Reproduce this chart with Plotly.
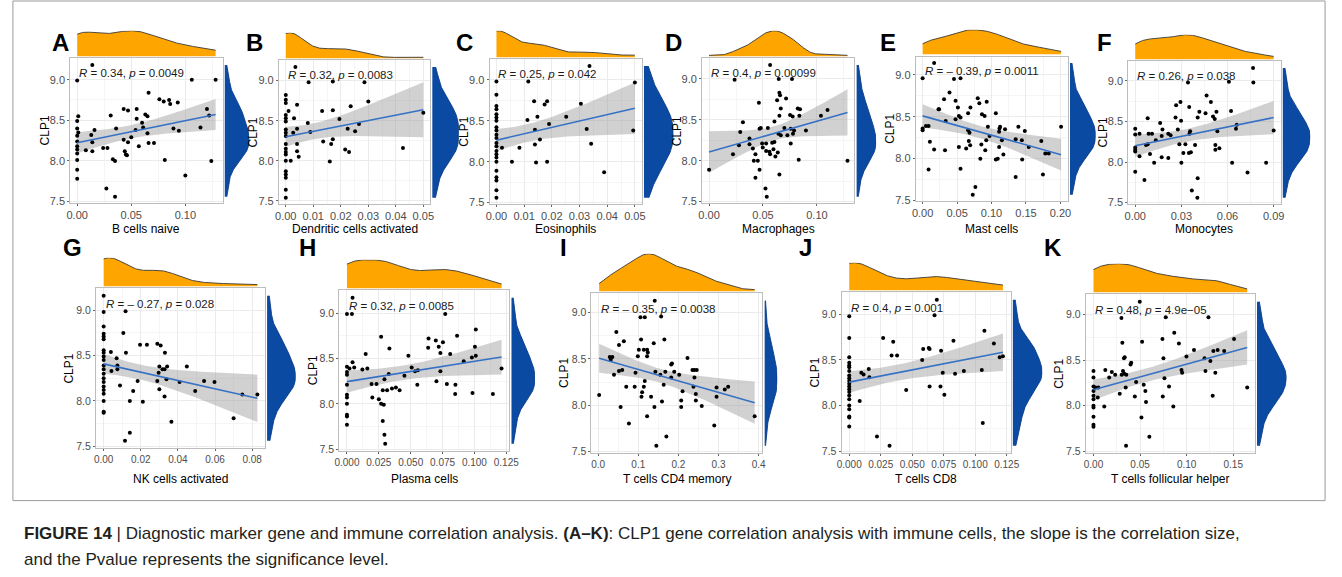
import numpy as np
import plotly.graph_objects as go

W, H = 1342, 577
FONT = "Liberation Sans, Arial, sans-serif"

# ---------------- data (immune cell fraction, CLP1 expression) ----------------
A_pts = [(0.014,9.18),(0,8.99),(0.106,9.00),(0.128,9.00),(0.066,8.84),(0.076,8.76),(0.080,8.73),(0.085,8.75),(0.086,8.70),(0.093,8.72),(0.043,8.64),(0.047,8.62),(0.055,8.64),(0.031,8.56),(0.001,8.55),(0.063,8.57),(0.065,8.55),(0.055,8.52),(0.060,8.47),(0,8.49),(0.120,8.64),(0.122,8.56),(0.061,8.41),(0.114,8.41),(0.089,8.40),(0.094,8.37),(0.054,8.38),(0.036,8.40),(0.016,8.38),(0,8.40),(0.001,8.35),(0,8.31),(0.013,8.32),(0.065,8.34),(0.050,8.29),(0.043,8.26),(0,8.24),(0.014,8.23),(0.047,8.23),(0.057,8.18),(0.066,8.22),(0.071,8.22),(0,8.18),(0,8.14),(0.008,8.13),(0.014,8.12),(0.024,8.16),(0.028,8.16),(0,8.09),(0.044,8.12),(0.045,8.08),(0.046,8.07),(0,8.01),(0.033,8.02),(0.035,8.00),(0.081,8.01),(0.124,8.00),(0,7.89),(0,7.78),(0.100,7.82),(0.027,7.66),(0.035,7.56)]
B_pts = [(0.0035,9.17),(0.0083,8.98),(0.0171,8.99),(0.0286,8.98),(0,8.82),(0,8.76),(0,8.72),(0.030,8.74),(0.0041,8.70),(0.0236,8.68),(0.001,8.62),(0,8.57),(0.0132,8.62),(0.0171,8.63),(0.003,8.53),(0,8.53),(0,8.49),(0.0195,8.52),(0.008,8.47),(0,8.39),(0.0041,8.40),(0.0225,8.40),(0.0266,8.46),(0.0252,8.37),(0.050,8.60),(0,8.35),(0.0027,8.35),(0.0089,8.36),(0,8.31),(0.0171,8.27),(0.0136,8.24),(0.0041,8.21),(0.0165,8.21),(0,8.21),(0,8.15),(0,8.11),(0.0041,8.12),(0,8.08),(0.0047,8.05),(0.0216,8.14),(0.023,8.11),(0.0426,8.16),(0,8.00),(0.0018,8.00),(0.016,7.99),(0,7.87),(0,7.83),(0,7.79),(0,7.64),(0,7.54)]
C_pts = [(0.0336,9.17),(0,8.98),(0.0115,8.98),(0.050,8.97),(0,8.82),(0,8.68),(0,8.64),(0.0136,8.74),(0.0183,8.74),(0.0174,8.70),(0.0305,8.71),(0,8.58),(0,8.54),(0.0148,8.55),(0.0112,8.51),(0.0252,8.55),(0,8.50),(0,8.42),(0.019,8.46),(0.0326,8.40),(0.0139,8.39),(0.0494,8.38),(0,8.38),(0,8.33),(0,8.29),(0.0157,8.27),(0,8.23),(0.0139,8.21),(0.0342,8.22),(0,8.19),(0.002,8.17),(0.0083,8.17),(0,8.13),(0,8.09),(0,8.05),(0.0056,8.00),(0.0143,7.99),(0.0183,8.00),(0,8.00),(0,7.89),(0.0389,7.87),(0,7.81),(0,7.77),(0,7.65),(0,7.56)]
D_pts = [(0.0566,9.17),(0.0237,8.99),(0.0646,9.00),(0.0769,9.00),(0.0652,8.83),(0.0658,8.80),(0.0714,8.76),(0.0631,8.74),(0.0462,8.71),(0.0665,8.64),(0.0822,8.64),(0.0843,8.63),(0.0652,8.55),(0.0751,8.56),(0.0775,8.54),(0.0837,8.55),(0.1037,8.55),(0.1098,8.62),(0.0314,8.47),(0.0606,8.48),(0.0545,8.40),(0.0468,8.39),(0.048,8.40),(0.0698,8.40),(0.0757,8.39),(0.0788,8.37),(0.0898,8.37),(0.0289,8.35),(0.0643,8.33),(0.0665,8.31),(0.0726,8.31),(0.0778,8.33),(0.0585,8.22),(0.0375,8.27),(0.0492,8.21),(0.0529,8.21),(0.0606,8.23),(0.0277,8.19),(0.0757,8.21),(0.0375,8.20),(0.0498,8.16),(0.0529,8.12),(0.056,8.11),(0.0597,8.14),(0.0637,8.10),(0.0566,8.08),(0.0406,8.15),(0.043,8.08),(0.0222,8.08),(0.0615,8.05),(0.0415,8.00),(0.0452,8.00),(0.0831,8.01),(0.1283,8.00),(0,7.89),(0.0468,7.89),(0.0652,7.83),(0.043,7.79),(0.0523,7.66),(0.0535,7.56)]
E_pts = [(0.0167,9.14),(0,8.96),(0.0455,8.95),(0.055,8.96),(0.039,8.79),(0.0311,8.71),(0.0478,8.69),(0.080,8.72),(0.093,8.68),(0.0823,8.66),(0.0694,8.61),(0.0239,8.59),(0.0230,8.59),(0.0512,8.61),(0.0526,8.51),(0.055,8.49),(0.066,8.54),(0.0861,8.53),(0.090,8.51),(0.1062,8.54),(0.0335,8.45),(0.0478,8.47),(0.0947,8.38),(0.0048,8.39),(0.0086,8.39),(0,8.36),(0,8.34),(0.066,8.34),(0.1124,8.38),(0.1115,8.36),(0.1196,8.35),(0.139,8.38),(0.1483,8.33),(0.2009,8.38),(0.0971,8.27),(0.111,8.32),(0.068,8.31),(0.0105,8.20),(0.067,8.21),(0.0923,8.22),(0.115,8.22),(0.135,8.23),(0.144,8.22),(0.1722,8.21),(0.069,8.16),(0.0852,8.17),(0.0167,8.11),(0.0325,8.10),(0.0526,8.14),(0.0632,8.12),(0.0909,8.10),(0.111,8.14),(0.1172,8.05),(0.154,8.14),(0.178,8.06),(0.183,8.06),(0.0837,8.00),(0.1062,7.99),(0.109,8.00),(0.1445,7.99),(0.0086,7.87),(0.055,7.88),(0.135,7.78),(0.1746,7.81),(0.0766,7.66),(0.0727,7.57)]
F_pts = [(0.0766,9.16),(0.0343,8.98),(0.0609,8.99),(0.0768,8.98),(0.0464,8.82),(0.0492,8.74),(0.0294,8.74),(0.0266,8.70),(0.0351,8.68),(0.0417,8.62),(0.0623,8.63),(0.0081,8.54),(0.0262,8.55),(0.0406,8.55),(0.0457,8.60),(0.0506,8.56),(0.0517,8.53),(0.0528,8.62),(0.0162,8.48),(0.0298,8.51),(0,8.41),(0.066,8.46),(0.0655,8.41),(0.0277,8.40),(0.0357,8.38),(0.0028,8.35),(0,8.34),(0.0087,8.35),(0.0109,8.35),(0.0177,8.40),(0.0215,8.35),(0.0230,8.33),(0.0353,8.35),(0.0534,8.38),(0.090,8.39),(0.0172,8.32),(0.0134,8.27),(0.0081,8.22),(0,8.18),(0.007,8.21),(0.0287,8.22),(0.0326,8.22),(0.0389,8.21),(0.0521,8.21),(0.0547,8.17),(0,8.15),(0,8.13),(0.0313,8.11),(0.0349,8.11),(0.0362,8.12),(0.0521,8.15),(0.0028,8.07),(0.0096,8.10),(0.0172,8.06),(0.0215,8.05),(0,7.88),(0.006,7.78),(0.030,7.99),(0.0123,7.99),(0.063,7.99),(0.0851,7.99),(0.073,7.87),(0.0406,7.80),(0.0368,7.65),(0.0404,7.56)]
G_pts = [(0,9.16),(0,8.98),(0.0118,8.99),(0,8.82),(0,8.74),(0,8.71),(0,8.68),(0.0106,8.75),(0.0196,8.62),(0.0233,8.62),(0.0289,8.63),(0.0307,8.61),(0,8.56),(0,8.53),(0.0039,8.54),(0.012,8.53),(0.033,8.53),(0,8.49),(0.007,8.47),(0,8.45),(0.0074,8.39),(0,8.39),(0.030,8.38),(0.0342,8.38),(0.0448,8.38),(0.0074,8.35),(0.0042,8.33),(0,8.35),(0.0317,8.35),(0.0328,8.35),(0.0296,8.31),(0,8.30),(0.0338,8.24),(0,8.25),(0,8.21),(0.0183,8.22),(0.0289,8.22),(0.0409,8.21),(0.0541,8.22),(0.0597,8.21),(0.0088,8.17),(0,8.16),(0,8.12),(0.030,8.13),(0.0159,8.11),(0.0493,8.11),(0,8.08),(0.0328,8.05),(0.0828,8.07),(0.0747,8.07),(0,8.00),(0.0141,8.00),(0.0211,7.99),(0,7.88),(0,7.87),(0.0365,7.77),(0.070,7.81),(0.0141,7.65),(0.0115,7.56)]
H_pts = [(0.0044,9.17),(0,8.99),(0.0039,8.99),(0.0771,8.99),(0.1011,8.82),(0.0268,8.74),(0.0864,8.75),(0.064,8.72),(0.0697,8.70),(0.0753,8.68),(0.0637,8.62),(0.072,8.63),(0.1004,8.63),(0.0333,8.61),(0.0147,8.55),(0.0733,8.56),(0.081,8.55),(0.0482,8.53),(0.1011,8.53),(0.098,8.51),(0.0916,8.47),(0.0044,8.46),(0,8.41),(0.002,8.39),(0.0057,8.40),(0.0121,8.38),(0.016,8.39),(0.0508,8.40),(0.0557,8.37),(0.0534,8.36),(0.0733,8.36),(0.1213,8.39),(0,8.35),(0,8.32),(0.0328,8.33),(0.0451,8.31),(0.0294,8.27),(0,8.21),(0.0193,8.22),(0.0232,8.22),(0.0552,8.21),(0.0702,8.25),(0.0784,8.22),(0.0851,8.21),(0.0985,8.12),(0.1145,8.11),(0.0849,8.11),(0.0281,8.15),(0.0315,8.15),(0.0353,8.17),(0.0384,8.18),(0.0413,8.15),(0.0199,8.07),(0.025,8.05),(0,8.10),(0,8.07),(0,8.00),(0.0268,8.00),(0.0289,7.99),(0,7.88),(0,7.86),(0,7.77),(0.0281,7.81),(0.0294,7.66),(0.030,7.56)]
I_pts = [(0.141,9.13),(0.1055,8.95),(0.1162,8.95),(0.157,8.96),(0.0453,8.79),(0.165,8.71),(0.107,8.71),(0.064,8.69),(0.0519,8.65),(0.1385,8.67),(0.1014,8.60),(0.1138,8.60),(0.122,8.60),(0.1237,8.57),(0.0989,8.53),(0.122,8.53),(0.0289,8.52),(0.0313,8.49),(0.0354,8.52),(0.2226,8.51),(0.182,8.44),(0.184,8.45),(0.0519,8.37),(0.060,8.38),(0.0395,8.33),(0.0931,8.35),(0.1426,8.36),(0.155,8.33),(0.1674,8.36),(0.1896,8.36),(0.202,8.33),(0.235,8.38),(0.240,8.38),(0.2457,8.38),(0.240,8.30),(0.182,8.30),(0.1162,8.26),(0.070,8.20),(0.091,8.20),(0.1138,8.20),(0.1633,8.22),(0.2375,8.20),(0.295,8.19),(0.324,8.20),(0.3155,8.17),(0.1096,8.14),(0.1319,8.09),(0.0025,8.11),(0.108,8.09),(0.2103,8.15),(0.2434,8.12),(0.295,8.09),(0.1591,8.04),(0.2069,8.05),(0.2434,8.05),(0.056,7.98),(0.1402,7.98),(0.2069,7.98),(0.2582,7.99),(0.122,7.88),(0.390,7.88),(0.0767,7.80),(0.2893,7.78),(0.170,7.66),(0.145,7.56)]
J_pts = [(0.0695,9.16),(0,8.98),(0.0677,8.99),(0,8.74),(0.0269,8.74),(0.0349,8.70),(0.0827,8.71),(0.1073,8.82),(0.1148,8.68),(0.0336,8.55),(0.038,8.55),(0.0587,8.62),(0.0631,8.63),(0.0638,8.62),(0.0729,8.60),(0.0579,8.50),(0.1194,8.53),(0.122,8.54),(0,8.53),(0,8.47),(0,8.44),(0,8.42),(0.0155,8.40),(0,8.38),(0.0096,8.36),(0.0114,8.34),(0.016,8.31),(0,8.33),(0,8.30),(0,8.27),(0.0742,8.36),(0.084,8.35),(0.091,8.38),(0.1052,8.39),(0,8.24),(0,8.21),(0,8.18),(0.0638,8.21),(0.0724,8.21),(0.0755,8.12),(0.0452,8.17),(0,8.15),(0,8.11),(0,8.07),(0.0083,8.05),(0,8.00),(0,7.96),(0,7.88),(0,7.87),(0,7.77),(0.106,7.81),(0.022,7.66),(0.032,7.56)]
K_pts = [(0.0497,9.14),(0.030,8.96),(0.0776,8.97),(0.1234,8.97),(0.0867,8.80),(0.0522,8.70),(0.074,8.73),(0.1509,8.73),(0.031,8.69),(0.0917,8.68),(0.1079,8.61),(0.1287,8.60),(0.1333,8.61),(0.1403,8.60),(0.0328,8.52),(0.0335,8.53),(0.0751,8.52),(0.0998,8.54),(0.1192,8.52),(0.1255,8.49),(0.0405,8.47),(0.0398,8.45),(0,8.38),(0.0127,8.39),(0.0197,8.37),(0.0233,8.34),(0.0317,8.38),(0.0331,8.35),(0.0353,8.34),(0.0945,8.39),(0.0952,8.36),(0.1202,8.38),(0.1308,8.36),(0,8.31),(0.0169,8.31),(0.0303,8.34),(0.0762,8.30),(0.0458,8.26),(0,8.21),(0.0021,8.20),(0.0053,8.20),(0.0346,8.20),(0.0539,8.23),(0.0811,8.21),(0.165,8.20),(0,8.16),(0.0557,8.16),(0.0282,8.13),(0,8.11),(0.0046,8.09),(0.0444,8.10),(0.0744,8.10),(0.128,8.11),(0,8.07),(0.0564,8.04),(0,8.00),(0,7.98),(0.0116,7.99),(0.0857,7.99),(0.0515,7.87),(0,7.88),(0,7.79),(0,7.77),(0.060,7.66),(0.035,7.56)]

POINTS = [A_pts, B_pts, C_pts, D_pts, E_pts, F_pts, G_pts, H_pts, I_pts, J_pts, K_pts]
LETTERS = ["A", "B", "C", "D", "E", "F", "G", "H", "I", "J", "K"]
CELLS = ["B cells naive", "Dendritic cells activated", "Eosinophils", "Macrophages", "Mast cells",
         "Monocytes", "NK cells activated", "Plasma cells", "T cells CD4 memory", "T cells CD8",
         "T cells follicular helper"]
R_TEXT = ["0.34", "0.32", "0.25", "0.4", "\u2013 0.39", "0.26", "\u2013 0.27", "0.32", "\u2013 0.35", "0.4", "0.48"]
P_TEXT = ["0.0049", "0.0083", "0.042", "0.00099", "0.0011", "0.038", "0.028", "0.0085", "0.0038", "0.001", "4.9e\u221205"]
X_DTICK = [0.05, 0.01, 0.01, 0.05, 0.05, 0.03, 0.02, 0.025, 0.1, 0.025, 0.05]
X_FMT = [".2f", ".2f", ".2f", ".2f", ".2f", ".2f", ".2f", ".3f", ".1f", ".3f", ".2f"]
Y_LABEL = "CLP1"

# ---------------- layout (pixels) ----------------
BOXES = [(66, 220, 59, 205), (277, 430, 61, 206), (490, 644, 60, 206), (705, 859, 59, 205),
         (921, 1075, 57, 203), (1136, 1290, 62, 206),
         (92, 263, 291, 452), (338, 510, 293, 455), (593, 766, 296, 457), (846, 1017, 295, 457),
         (1093, 1264, 297, 457)]
TOP_H = [26, 26, 27, 26, 25, 25, 29, 29, 38, 28, 29]
RIGHT_W = [25, 27, 30, 20, 26, 28, 29, 24, 13, 30, 30]
LETTER_POS = [(56, 43), (252, 43), (465, 43), (676, 43), (893, 43), (1112, 43),
              (68, 250), (306, 250), (565, 250), (810, 250), (1060, 250)]
ROW = [1, 1, 1, 1, 1, 1, 2, 2, 2, 2, 2]
XTITLE_Y = {1: 231, 2: 483}

ORANGE = "#FFA500"
BLUE = "#0B4AA2"
LINE_BLUE = "#3671C6"


def ax(n):
    return "" if n == 1 else str(n)


def pad(v):
    lo, hi = float(np.min(v)), float(np.max(v))
    r = hi - lo
    return [lo - 0.05 * r, hi + 0.05 * r]


def fit(x, y):
    n = len(x)
    b, a = np.polyfit(x, y, 1)
    xs = np.linspace(x.min(), x.max(), 80)
    yh = a + b * xs
    res = y - (a + b * x)
    s = np.sqrt(np.sum(res ** 2) / (n - 2))
    sxx = np.sum((x - x.mean()) ** 2)
    se = s * np.sqrt(1.0 / n + (xs - x.mean()) ** 2 / sxx)
    t = 2.0
    return xs, yh, yh - t * se, yh + t * se


def kde(v):
    n = len(v)
    sd = np.std(v, ddof=1)
    q75, q25 = np.percentile(v, [75, 25])
    iqr = q75 - q25
    spread = min(sd, iqr / 1.34) if iqr > 0 else sd
    bw = 0.9 * spread * n ** -0.2
    g = np.linspace(v.min(), v.max(), 256)
    d = np.exp(-0.5 * ((g[:, None] - v[None, :]) / bw) ** 2).sum(1) / (n * bw * np.sqrt(2 * np.pi))
    return g, d


fig = go.Figure()
lay = {}
ann = []

for i in range(11):
    pts = np.array(POINTS[i], dtype=float)
    x, y = pts[:, 0], pts[:, 1]
    L, R, T, B = BOXES[i]
    m, t, r = 3 * i + 1, 3 * i + 2, 3 * i + 3
    xr, yr = pad(x), pad(y)
    row = ROW[i]

    xs, yh, lo, hi = fit(x, y)
    fig.add_trace(go.Scatter(x=np.r_[xs, xs[::-1]], y=np.r_[hi, lo[::-1]], fill="toself",
                             fillcolor="rgba(153,153,153,0.45)", line=dict(width=0), mode="lines",
                             hoverinfo="skip", showlegend=False, xaxis="x" + ax(m), yaxis="y" + ax(m)))
    fig.add_trace(go.Scatter(x=x, y=y, mode="markers", marker=dict(size=4, color="black"),
                             showlegend=False, xaxis="x" + ax(m), yaxis="y" + ax(m)))
    fig.add_trace(go.Scatter(x=xs, y=yh, mode="lines", line=dict(color=LINE_BLUE, width=1.6),
                             showlegend=False, xaxis="x" + ax(m), yaxis="y" + ax(m)))

    gx, dx = kde(x)
    fig.add_trace(go.Scatter(x=gx, y=dx, mode="lines", fill="tozeroy", fillcolor=ORANGE,
                             line=dict(color="#3a3a3a", width=0.9), showlegend=False,
                             xaxis="x" + ax(t), yaxis="y" + ax(t)))
    gy, dy = kde(y)
    fig.add_trace(go.Scatter(x=dy, y=gy, mode="lines", fill="tozerox", fillcolor=BLUE,
                             line=dict(color="#0A3C86", width=0.9), showlegend=False,
                             xaxis="x" + ax(r), yaxis="y" + ax(r)))

    dt = X_DTICK[i]
    xfs = 11 if row == 1 else 10
    yfs = 11 if row == 1 else 10.5
    common = dict(showgrid=True, gridcolor="#EBEBEB", gridwidth=1, zeroline=False, showline=True,
                  mirror=True, linecolor="#BDBDBD", linewidth=1, ticks="outside", ticklen=2,
                  tickcolor="#666666")
    lay["xaxis" + ax(m)] = dict(domain=[L / W, R / W], range=xr, anchor="y" + ax(m), tick0=0, dtick=dt,
                                tickformat=X_FMT[i],
                                minor=dict(tick0=0, dtick=dt / 2, showgrid=True, gridcolor="#F5F5F5"),
                                tickfont=dict(size=xfs, color="#4D4D4D", family=FONT), **common)
    lay["yaxis" + ax(m)] = dict(domain=[1 - B / H, 1 - T / H], range=yr, anchor="x" + ax(m), tick0=7.5,
                                dtick=0.5, tickformat=".1f",
                                minor=dict(tick0=7.5, dtick=0.25, showgrid=True, gridcolor="#F5F5F5"),
                                tickfont=dict(size=yfs, color="#4D4D4D", family=FONT), **common)
    base = T - 2
    lay["xaxis" + ax(t)] = dict(domain=[L / W, R / W], range=xr, anchor="y" + ax(t), visible=False)
    lay["yaxis" + ax(t)] = dict(domain=[1 - base / H, 1 - (base - TOP_H[i]) / H], range=[0, dx.max()],
                                anchor="x" + ax(t), visible=False)
    lay["xaxis" + ax(r)] = dict(domain=[(R + 2) / W, (R + 2 + RIGHT_W[i]) / W], range=[0, dy.max()],
                                anchor="y" + ax(r), visible=False)
    lay["yaxis" + ax(r)] = dict(domain=[1 - B / H, 1 - T / H], range=yr, anchor="x" + ax(r), visible=False)

    ann.append(dict(xref="x" + ax(m), yref="y" + ax(m), x=xr[0] + 0.045 * (xr[1] - xr[0]), y=y.max(),
                    xanchor="left", yanchor="top", showarrow=False,
                    text="<i>R</i> = %s, <i>p</i> = %s" % (R_TEXT[i], P_TEXT[i]),
                    font=dict(size=11.5, color="#1A1A1A", family=FONT)))
    lx, ly = LETTER_POS[i]
    ann.append(dict(xref="paper", yref="paper", x=lx / W, y=1 - ly / H, xanchor="center", yanchor="middle",
                    showarrow=False, text="<b>%s</b>" % LETTERS[i],
                    font=dict(size=24, color="black", family=FONT)))
    ann.append(dict(xref="paper", yref="paper", x=(L + R) / 2 / W, y=1 - XTITLE_Y[row] / H,
                    xanchor="center", yanchor="middle", showarrow=False, text=CELLS[i],
                    font=dict(size=12, color="black", family=FONT)))
    off = 26 if row == 1 else 27
    ann.append(dict(xref="paper", yref="paper", x=(L - off) / W, y=1 - (T + B) / 2 / H,
                    xanchor="center", yanchor="middle", showarrow=False, text=Y_LABEL, textangle=-90,
                    font=dict(size=12, color="black", family=FONT)))

CAPTION_1 = ("<b>FIGURE 14</b> | Diagnostic marker gene and immune correlation analysis. <b>(A\u2013K)</b>: "
             "CLP1 gene correlation analysis with immune cells, the slope is the correlation size,")
CAPTION_2 = "and the Pvalue represents the significance level."
ann.append(dict(xref="paper", yref="paper", x=17 / W, y=1 - 538 / H, xanchor="left", yanchor="middle",
                showarrow=False, text=CAPTION_1, font=dict(size=17, color="#231F20", family=FONT)))
ann.append(dict(xref="paper", yref="paper", x=17 / W, y=1 - 564 / H, xanchor="left", yanchor="middle",
                showarrow=False, text=CAPTION_2, font=dict(size=17, color="#231F20", family=FONT)))

shapes = [dict(type="rect", xref="paper", yref="paper", x0=8 / W, x1=1335 / W, y0=1 - 505 / H, y1=1 - 1 / H,
               line=dict(color="#9A9A9A", width=1), fillcolor="rgba(0,0,0,0)", layer="below")]

fig.update_layout(width=W, height=H, margin=dict(l=0, r=0, t=0, b=0), paper_bgcolor="white",
                  plot_bgcolor="white", showlegend=False, annotations=ann, shapes=shapes,
                  font=dict(family=FONT), **lay)

fig.write_html("out.html")
